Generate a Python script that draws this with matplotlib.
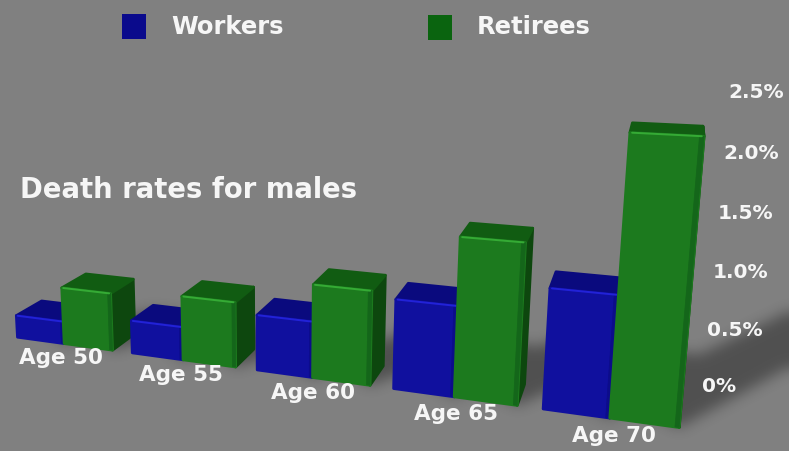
import numpy as np
import matplotlib
matplotlib.use("Agg")
import matplotlib.pyplot as plt
from matplotlib.patches import Polygon, Rectangle
from matplotlib.path import Path

categories = ["Age 50", "Age 55", "Age 60", "Age 65", "Age 70"]
workers = [0.21, 0.30, 0.49, 0.76, 0.98]
retirees = [0.53, 0.58, 0.81, 1.32, 2.20]
tick_values = [0, 0.5, 1.0, 1.5, 2.0, 2.5]
tick_labels = ["0%", "0.5%", "1.0%", "1.5%", "2.0%", "2.5%"]

# camera fitted to the picture: world (x, value, depth) -> pixel
P = np.array([[45.614, -5.79066, 26.7884, 17.4958],
              [0.593009, -109.4, -2.74308, 337.178],
              [-0.0168305, -0.0211255, 0.0392941, 1.0]])
pitch = 2.4

BG = "#808080"
TEXT = "#f6f6f6"
FONT = "DejaVu Sans"
BLUE = {"front": "#10109e", "shade": "#0c0c8a", "top": "#0a0a7e", "side": "#08085e", "edge": "#2222d8"}
GREEN = {"front": "#1c7a1e", "shade": "#14661a", "top": "#115c12", "side": "#0d470e", "edge": "#35ab35"}
W, H = 789, 451


def proj(x, y, z):
    q = P @ np.array([x, y, z, 1.0])
    return q[0] / q[2], q[1] / q[2]


def face(ax, pts, color, lw=2.0):
    ax.add_patch(Polygon([proj(*p) for p in pts], closed=True, facecolor=color,
                         edgecolor=color, lw=lw, joinstyle="round", zorder=3))


def box_blur(a, r):
    k = np.ones(2 * r + 1) / (2 * r + 1)
    a = np.apply_along_axis(lambda m: np.convolve(m, k, mode="same"), 0, a)
    return np.apply_along_axis(lambda m: np.convolve(m, k, mode="same"), 1, a)


def shadow_mask():
    # soft shadows on the floor, length goes with the value
    gx, gy = np.meshgrid(np.arange(W) + 0.5, np.arange(H) + 0.5)
    grid = np.column_stack([gx.ravel(), gy.ravel()])
    mask = np.zeros(H * W, dtype=bool)
    for i in range(len(categories)):
        for x0, v in [(pitch * i, workers[i]), (pitch * i + 1, retirees[i])]:
            dx, dz = 1.36 * v, 2.73 * v
            pts = [(x0, 0, 1), (x0 + dx, 0, 1 + dz), (x0 + 1 + dx, 0, 1 + dz), (x0 + 1 + dx, 0, dz), (x0 + 1, 0, 0)]
            mask |= Path([proj(*p) for p in pts]).contains_points(grid)
    pad = 30
    a = np.pad(mask.reshape(H, W).astype(float), pad, mode="edge")
    for _ in range(3):
        a = box_blur(a, 6)
    return a[pad:-pad, pad:-pad]


def bar(ax, x0, v, c):
    x1 = x0 + 1
    face(ax, [(x1, v, 0), (x1, v, 1), (x1, 0, 1), (x1, 0, 0)], c["side"])
    face(ax, [(x0, v, 0), (x1, v, 0), (x1, v, 1), (x0, v, 1)], c["top"])
    face(ax, [(x0, v, 0), (x1, v, 0), (x1, 0, 0), (x0, 0, 0)], c["front"])
    face(ax, [(x1 - 0.06, v, 0), (x1, v, 0), (x1, 0, 0), (x1 - 0.06, 0, 0)], c["shade"], lw=0.5)
    a, b = proj(x0 + 0.03, v, 0), proj(x1 - 0.03, v, 0)
    ax.plot([a[0], b[0]], [a[1], b[1]], color=c["edge"], lw=1.4, solid_capstyle="round", zorder=3)


fig = plt.figure(figsize=(7.89, 4.51), dpi=100, facecolor=BG)
ax = fig.add_axes([0, 0, 1, 1])

rgba = np.zeros((H, W, 4))
rgba[..., 3] = 0.37 * shadow_mask()
ax.imshow(rgba, extent=(0, W, H, 0), interpolation="bilinear", zorder=1)
ax.set_xlim(0, W)
ax.set_ylim(H, 0)
ax.set_aspect("auto")
ax.axis("off")

for i in range(len(categories)):
    bar(ax, pitch * i, workers[i], BLUE)
    bar(ax, pitch * i + 1, retirees[i], GREEN)
    u, v = proj(2.35 * i + 1.3, 0, -0.7)
    ax.text(u, v, categories[i], color=TEXT, fontsize=15.5, fontweight="bold", family=FONT,
            ha="center", va="center", zorder=5)

for val, lab in zip(tick_values, tick_labels):
    u, v = proj(11.95, 0.96 * val, 2)
    ax.text(u, v, lab, color=TEXT, fontsize=14.5, fontweight="bold", family=FONT,
            ha="left", va="center", zorder=5)

ax.text(20, 190, "Death rates for males", color=TEXT, fontsize=19.8, fontweight="bold", family=FONT,
        ha="left", va="center", zorder=5)

ax.add_patch(Rectangle((122, 14), 24, 25, facecolor="#0a0a8c", edgecolor="none"))
ax.add_patch(Rectangle((428, 15), 24, 25, facecolor="#0a640f", edgecolor="none"))
ax.text(171, 27, "Workers", color=TEXT, fontsize=17.5, fontweight="bold", family=FONT, ha="left", va="center")
ax.text(477, 27, "Retirees", color=TEXT, fontsize=17.5, fontweight="bold", family=FONT, ha="left", va="center")

fig.savefig("out.png", dpi=100, facecolor=BG)
